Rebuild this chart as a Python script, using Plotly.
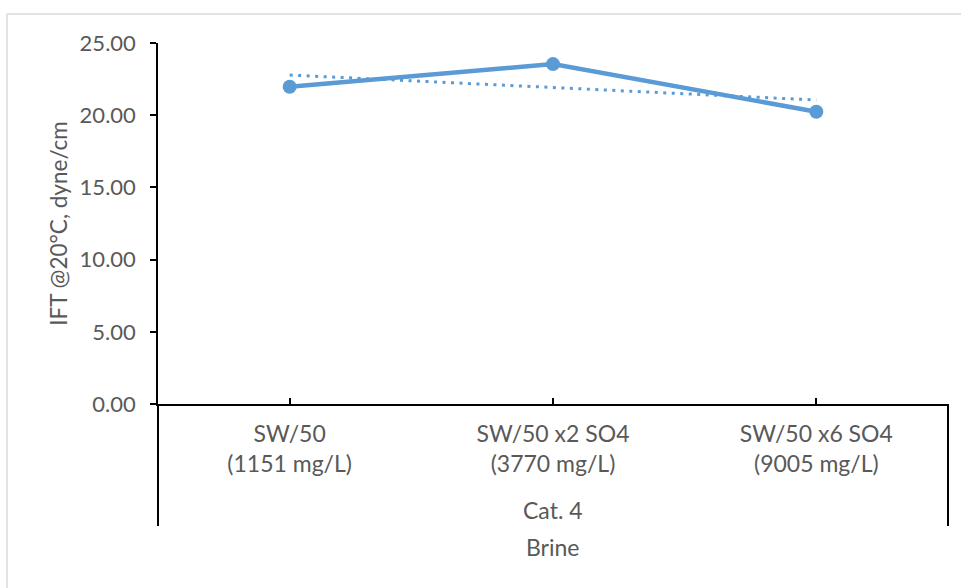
import numpy as np
import plotly.graph_objects as go

# Brine categories and measured interfacial tension
brines = ["SW/50<br>(1151 mg/L)", "SW/50 x2 SO4<br>(3770 mg/L)", "SW/50 x6 SO4<br>(9005 mg/L)"]
ift = [21.97, 23.54, 20.24]
group_label = "Cat. 4"
x_title = "Brine"
y_title = "IFT @20°C, dyne/cm"
y_ticks = [0, 5, 10, 15, 20, 25]

xpos = list(range(len(brines)))

# Linear trend line (least squares) over the brine sequence
slope, intercept = np.polyfit(xpos, ift, 1)
trend = [slope * x + intercept for x in xpos]

BLUE = "#5B9BD5"
GREY_TEXT = "#595959"
FONT = "Lato"
FS = 23

fig = go.Figure()
fig.add_trace(go.Scatter(
    x=xpos, y=trend, mode="lines",
    line=dict(color=BLUE, width=3, dash="3px,5.5px"),
    hoverinfo="skip", showlegend=False,
))
fig.add_trace(go.Scatter(
    x=xpos, y=ift, mode="lines+markers",
    line=dict(color=BLUE, width=4.5),
    marker=dict(color=BLUE, size=14),
    showlegend=False,
))

fig.update_layout(
    width=961, height=588,
    margin=dict(l=158, r=13, t=43, b=184),
    paper_bgcolor="white", plot_bgcolor="white",
    font=dict(family=FONT, size=FS, color=GREY_TEXT),
    xaxis=dict(
        range=[-0.5, len(brines) - 0.5],
        tickmode="array", tickvals=xpos, ticktext=brines,
        showline=True, linecolor="black", linewidth=1.5,
        ticks="inside", ticklen=6, tickwidth=1.5, tickcolor="black",
        showgrid=False, zeroline=False, ticklabelstandoff=9,
        tickfont=dict(family=FONT, size=FS, color=GREY_TEXT),
    ),
    yaxis=dict(
        range=[0, 25], tickmode="array", tickvals=y_ticks,
        tickformat=".2f",
        showline=True, linecolor="black", linewidth=1.5,
        ticks="outside", ticklen=6, tickwidth=1.5, tickcolor="black",
        showgrid=False, zeroline=False, ticklabelstandoff=10,
        tickfont=dict(family=FONT, size=22, color=GREY_TEXT),
        title=dict(text=y_title, font=dict(family=FONT, size=22.5, color=GREY_TEXT), standoff=6),
    ),
    shapes=[
        # group bracket under the category axis
        dict(type="line", xref="paper", yref="paper", x0=0, x1=0, y0=0, y1=-0.338,
             line=dict(color="black", width=2)),
        dict(type="line", xref="paper", yref="paper", x0=1, x1=1, y0=0, y1=-0.338,
             line=dict(color="black", width=2)),
        # chart frame (top and left edges)
        dict(type="line", xref="paper", yref="paper", x0=-0.1911, x1=1.1, y0=1.0803, y1=1.0803,
             line=dict(color="#D9D9D9", width=1.5)),
        dict(type="line", xref="paper", yref="paper", x0=-0.1911, x1=-0.1911, y0=1.0803, y1=-0.55,
             line=dict(color="#D9D9D9", width=1.5)),
    ],
    annotations=[
        dict(text=group_label, xref="paper", yref="paper", x=0.5, y=-0.2936,
             showarrow=False, xanchor="center", yanchor="middle",
             font=dict(family=FONT, size=FS, color=GREY_TEXT)),
        dict(text=x_title, xref="paper", yref="paper", x=0.5, y=-0.396,
             showarrow=False, xanchor="center", yanchor="middle",
             font=dict(family=FONT, size=FS, color=GREY_TEXT)),
    ],
)

fig.write_html("out.html")
